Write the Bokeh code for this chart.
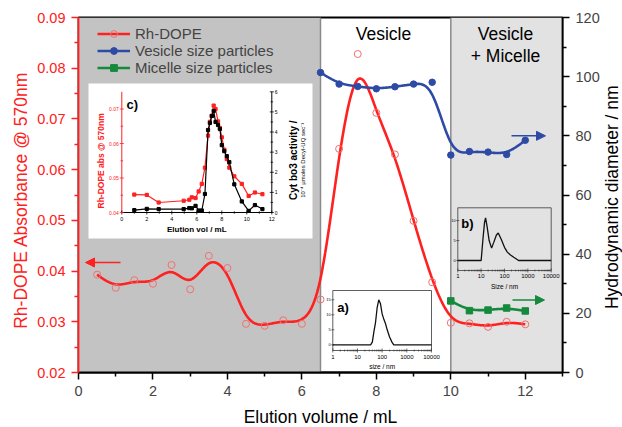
import numpy as np
from bokeh.plotting import figure
from bokeh.layouts import row, column
from bokeh.models import (Range1d, LinearAxis, FixedTicker, PrintfTickFormatter, Legend,
                          LegendItem, Arrow, NormalHead, Label)
from bokeh.core.properties import value
from bokeh.embed import file_html
from bokeh.resources import INLINE

# ---------------- data ----------------
rh_vol = [0.5, 1.0, 1.5, 2.0, 2.5, 3.0, 3.5, 4.0, 4.5, 5.0, 5.5, 6.0,
          6.5, 7.0, 7.5, 8.0, 8.5, 9.0, 9.5, 10.0, 10.5, 11.0, 11.5, 12.0]
rh_abs = [0.0393, 0.0367, 0.0382, 0.0375, 0.0412, 0.0364, 0.0430, 0.0406,
          0.0296, 0.0292, 0.0303, 0.0296, 0.0344, 0.0641, 0.0828, 0.0712,
          0.0630, 0.0499, 0.0378, 0.0298, 0.0297, 0.0290, 0.0300, 0.0295]
ves_vol = [6.5, 7.0, 7.5, 8.0, 8.5, 9.0, 9.5, 10.0, 10.5, 11.0, 11.5, 12.0]
ves_d = [101.4, 97.5, 96.7, 95.9, 96.6, 97.5, 98.1, 73.5, 74.7, 74.5, 73.7, 78.5]
mic_vol = [10.0, 10.5, 11.0, 11.5, 12.0]
mic_d = [24.2, 20.9, 21.1, 21.8, 20.8]

x_ticks = [0, 2, 4, 6, 8, 10, 12]
x_minor = [1, 3, 5, 7, 9, 11, 13]
abs_ticks = [0.02, 0.03, 0.04, 0.05, 0.06, 0.07, 0.08, 0.09]
abs_minor = [0.025, 0.035, 0.045, 0.055, 0.065, 0.075, 0.085]
d_ticks = [0, 20, 40, 60, 80, 100, 120]
d_minor = [10, 30, 50, 70, 90, 110]

# inset c : Rh-DOPE absorbance and Cyt bo3 activity
c_vol = [1.0, 2.0, 2.95, 4.95, 5.4, 5.6, 5.9, 6.15, 6.4, 6.65, 6.9, 7.05, 7.2,
         7.35, 7.5, 7.7, 7.85, 8.0, 8.2, 8.4, 8.6, 9.0, 9.6, 10.15, 10.65, 11.25]
c_abs = [0.0452, 0.0451, 0.0429, 0.0434, 0.0437, 0.0444, 0.0442, 0.0461, 0.0483,
         0.0530, 0.0623, 0.0663, 0.0680, 0.0710, 0.0700, 0.0664, 0.0645, 0.0618,
         0.0582, 0.0555, 0.0530, 0.0505, 0.0483, 0.0448, 0.0458, 0.0453]
c_act = [0.12, 0.18, 0.17, 0.17, 0.22, 0.21, 0.33, 0.10, 0.10, 0.92, 4.10, 4.45,
         4.80, 5.05, 4.50, 4.35, 4.15, 3.35, 3.05, 2.80, 2.50, 1.40, 0.55, 0.08,
         0.37, 0.17]
c_x_ticks = [0, 2, 4, 6, 8, 10, 12]
c_x_minor = [1, 3, 5, 7, 9, 11]
c_abs_ticks = [0.04, 0.05, 0.06, 0.07]
c_abs_minor = [0.045, 0.055, 0.065]
c_act_ticks = [0, 1, 2, 3, 4, 5, 6]
c_act_minor = [0.5, 1.5, 2.5, 3.5, 4.5, 5.5]

# inset a : size distribution (vesicle fraction)
a_size = [1, 34, 40, 46, 54, 63, 73, 85, 100, 118, 135, 160, 200, 250, 295, 10000]
a_int = [0, 0, 0.9, 4.2, 7.5, 12.5, 15.0, 13.8, 10.3, 8.4, 7.2, 5.0, 2.6, 0.9, 0, 0]
a_y_ticks = [0, 5, 10, 15]

# inset b : size distribution (vesicle + micelle fraction)
b_size = [1, 10, 12, 14, 15.5, 18, 22, 28, 35, 45, 54, 70, 100, 132, 180, 250, 400, 10000]
b_int = [0, 0, 5.5, 9.6, 10.7, 8.5, 5.0, 3.1, 4.6, 6.4, 6.9, 5.5, 3.3, 2.1, 1.4, 0.8, 0, 0]
b_y_ticks = [0, 5, 10]

dls_ticks = [1, 10, 100, 1000, 10000]
dls_labels = ["1", "10", "100", "1000", "10000"]

# ---------------- styling / layout ----------------
RED = "#ff2020"
RED_PT = "#f07070"
BLUE = "#2d4ba5"
GREEN = "#168a3c"
DARK = "#c3c3c3"
LIGHT = "#e2e2e2"
FONT = "Liberation Sans"

W, H = 622, 427
LW, RW = 32, 20                 # side strips carrying the rotated axis titles
MW = W - LW - RW                # main figure width
MH = 403                        # main figure height (bottom strip below it)
FL, FR, FT, FB = 78, 562, 17, 372   # frame edges on the page
BL, BR, BT, BB = FL - LW, LW + MW - FR, FT, MH - FB
X0, X1, Y0, Y1 = 0.0, 13.0, 0.02, 0.09


def mx(px):
    return X0 + (px - FL) / (FR - FL) * (X1 - X0)


def my(py):
    return Y0 + (FB - py) / (FB - FT) * (Y1 - Y0)


def bspline(xs, ys, n=24):
    P = np.column_stack([xs, ys]).astype(float)
    P = np.vstack([P[0], P[0], P, P[-1], P[-1]])
    t = np.linspace(0, 1, n, endpoint=False)[:, None]
    b0 = (1 - t) ** 3 / 6
    b1 = (3 * t ** 3 - 6 * t ** 2 + 4) / 6
    b2 = (-3 * t ** 3 + 3 * t ** 2 + 3 * t + 1) / 6
    b3 = t ** 3 / 6
    segs = []
    for i in range(len(P) - 3):
        segs.append(b0 * P[i] + b1 * P[i + 1] + b2 * P[i + 2] + b3 * P[i + 3])
    segs.append(P[-1:])
    out = np.vstack(segs)
    return out[:, 0], out[:, 1]


p = figure(width=MW, height=MH, x_range=Range1d(X0, X1), y_range=Range1d(Y0, Y1),
           output_backend="svg", toolbar_location=None,
           min_border_left=BL, min_border_right=BR, min_border_top=BT, min_border_bottom=BB,
           background_fill_color="white", border_fill_color="white")
p.xgrid.visible = False
p.ygrid.visible = False
p.outline_line_color = "black"
p.outline_line_width = 1.8
p.extra_y_ranges = {"d": Range1d(0, 120)}

xa = p.xaxis[0]
ya = p.yaxis[0]
ra = LinearAxis(y_range_name="d")
p.add_layout(ra, "right")

xa.ticker = FixedTicker(ticks=x_ticks, minor_ticks=x_minor)
ya.ticker = FixedTicker(ticks=abs_ticks, minor_ticks=abs_minor)
ya.formatter = PrintfTickFormatter(format="%.2f")
ra.ticker = FixedTicker(ticks=d_ticks, minor_ticks=d_minor)

for ax in (xa, ya, ra):
    ax.major_tick_in = 0
    ax.major_tick_out = 7
    ax.minor_tick_in = 0
    ax.minor_tick_out = 4
    ax.axis_line_width = 1.8
    ax.major_tick_line_width = 1.5
    ax.minor_tick_line_width = 1.5
    ax.major_label_text_font = FONT
    ax.major_label_text_font_size = "14.5px"
    ax.major_label_standoff = 6
for attr in ("axis_line_color", "major_tick_line_color", "minor_tick_line_color",
             "major_label_text_color"):
    setattr(ya, attr, RED)

# ---------------- background regions ----------------
p.quad(left=[0, 10], right=[6.5, 13], bottom=Y0, top=Y1,
       fill_color=[DARK, LIGHT], line_color=None)
p.segment(x0=[6.5, 10], y0=Y0, x1=[6.5, 10], y1=Y1, line_color="#8a8a8a", line_width=1.5)

# ---------------- main series ----------------
rx, ry = bspline(rh_vol, rh_abs)
r_line = p.line(rx, ry, line_color=RED, line_width=2.6)
r_pts = p.scatter(rh_vol, rh_abs, marker="circle", size=7, fill_color=None,
                  line_color=RED_PT, line_width=1)

bx, by = bspline(ves_vol, ves_d)
b_line = p.line(bx, by, line_color=BLUE, line_width=2.6, y_range_name="d")
b_pts = p.scatter(ves_vol, ves_d, marker="circle", size=6.5, fill_color=BLUE,
                  line_color=BLUE, y_range_name="d")

gx, gy = bspline(mic_vol, mic_d)
g_line = p.line(gx, gy, line_color=GREEN, line_width=2.6, y_range_name="d")
g_pts = p.scatter(mic_vol, mic_d, marker="square", size=6.5, fill_color=GREEN,
                  line_color=GREEN, y_range_name="d")

legend = Legend(items=[LegendItem(label="Rh-DOPE", renderers=[r_line, r_pts]),
                       LegendItem(label="Vesicle size particles", renderers=[b_line, b_pts]),
                       LegendItem(label="Micelle size particles", renderers=[g_line, g_pts])],
                location=(19, 296), margin=0, padding=0, spacing=0,
                glyph_width=33, glyph_height=17, label_height=17, label_standoff=5,
                label_text_font=FONT, label_text_font_size="15px",
                background_fill_alpha=0, border_line_alpha=0)
p.add_layout(legend)

# arrows
p.add_layout(Arrow(end=NormalHead(size=9, fill_color=RED, line_color=RED),
                   x_start=mx(120), y_start=my(262), x_end=mx(85), y_end=my(262),
                   line_color=RED, line_width=1.5))
p.add_layout(Arrow(end=NormalHead(size=9, fill_color=BLUE, line_color=BLUE),
                   x_start=mx(511), y_start=80, x_end=mx(545), y_end=80,
                   line_color=BLUE, line_width=1.5, y_range_name="d"))
p.add_layout(Arrow(end=NormalHead(size=9, fill_color=GREEN, line_color=GREEN),
                   x_start=mx(512), y_start=24.5, x_end=mx(544), y_end=24.5,
                   line_color=GREEN, line_width=1.5, y_range_name="d"))


def label(fig, x, y, text, size, color="black", angle=0.0):
    fig.add_layout(Label(x=x, y=y, text=text, text_font=FONT, text_font_size=size,
                         text_color=color, text_align="center", text_baseline="middle",
                         angle=angle))


label(p, mx(383), my(33), "Vesicle", "17.5px")
label(p, mx(505), my(33), "Vesicle", "17.5px")
label(p, mx(505), my(55), "+ Micelle", "17.5px")


def stext(sub, x, y, text, size, color="black", **kw):
    sub.text(x=x, y=y, text=text, text_font=value(FONT), text_font_size=size,
             text_color=color, **kw)


# ---------------- inset c ----------------
p.quad(left=mx(88), right=mx(312), bottom=my(238), top=my(83),
       fill_color="white", line_color=None)
cxt = Range1d(mx(121.3), mx(271.3))
cyt = Range1d(my(212), my(91.3))
c1 = p.subplot(x_source=Range1d(0, 12), y_source=Range1d(0.04, 0.075), x_target=cxt, y_target=cyt)
c2 = p.subplot(x_source=Range1d(0, 12), y_source=Range1d(0, 6), x_target=cxt, y_target=cyt)

c1.segment(x0=[0, 0], y0=[0.04, 0.04], x1=[0, 12], y1=[0.075, 0.04],
           line_color=[RED, "black"], line_width=1)
c2.segment(x0=12, y0=0, x1=12, y1=6, line_color="black", line_width=1)
c1.scatter(c_x_ticks, [0.04] * len(c_x_ticks), marker="dash", angle=np.pi / 2, size=4,
           line_color="black", line_width=0.8)
c1.scatter(c_x_minor, [0.04] * len(c_x_minor), marker="dash", angle=np.pi / 2, size=2.5,
           line_color="black", line_width=0.8)
c1.scatter([0] * len(c_abs_ticks), c_abs_ticks, marker="dash", size=4, line_color=RED, line_width=0.8)
c1.scatter([0] * len(c_abs_minor), c_abs_minor, marker="dash", size=2.5, line_color=RED, line_width=0.8)
c2.scatter([12] * len(c_act_ticks), c_act_ticks, marker="dash", size=4, line_color="black", line_width=0.8)
c2.scatter([12] * len(c_act_minor), c_act_minor, marker="dash", size=2.5, line_color="black", line_width=0.8)

c1.line(c_vol, c_abs, line_color=RED, line_width=1.2)
c1.scatter(c_vol, c_abs, marker="square", size=3.2, fill_color=RED, line_color=RED)
c2.line(c_vol, c_act, line_color="black", line_width=1.2)
c2.scatter(c_vol, c_act, marker="square", size=3.2, fill_color="black", line_color="black")

stext(c1, c_x_ticks, [0.04] * len(c_x_ticks), [str(v) for v in c_x_ticks], "5.5px",
      text_align="center", text_baseline="top", y_offset=4)
stext(c1, [0] * len(c_abs_ticks), c_abs_ticks, ["%.2f" % v for v in c_abs_ticks], "5px",
      color=RED, text_align="right", text_baseline="middle", x_offset=-3)
stext(c2, [12] * len(c_act_ticks), c_act_ticks, [str(v) for v in c_act_ticks], "5px",
      text_align="left", text_baseline="middle", x_offset=3)
stext(c1, [6], [0.04], ["Elution vol / mL"], "8px", text_align="center",
      text_baseline="middle", y_offset=16.5, text_font_style="bold")
stext(c1, [0], [0.05496], ["Rh-DOPE abs @ 570nm"], "8.5px", color=RED, text_align="center",
      text_baseline="middle", x_offset=-20.6, angle=np.pi / 2, text_font_style="bold")
stext(c2, [12], [2.6], ["Cyt bo3 activity /"], "10px", text_align="center",
      text_baseline="middle", x_offset=21.5, angle=np.pi / 2, text_font_style="bold")
stext(c2, [12], [2.6], ["10\u207b\u2074 \u00b5moles Decyl-UQ sec\u207b\u00b9"], "6px",
      text_align="center", text_baseline="middle", x_offset=31, angle=np.pi / 2)
stext(c1, [0], [0.075], ["c)"], "13px", text_align="left", text_baseline="middle",
      x_offset=4.7, y_offset=12.7, text_font_style="bold")

# ---------------- DLS insets a and b (log size axis) ----------------
minor_log = [m * 10 ** k for k in range(4) for m in range(2, 10)]
lg_ticks = list(np.log10(dls_ticks))
lg_minor = list(np.log10(minor_log))


def dls_inset(px0, px1, py_top, py_bot, ymin, ymax, sizes, ints, yticks, tag, xlabel,
              fill, tag_dx, tag_dy, xlab_dy, ylab_dy):
    s = p.subplot(x_source=Range1d(0, 4), y_source=Range1d(ymin, ymax),
                  x_target=Range1d(mx(px0), mx(px1)),
                  y_target=Range1d(my(py_bot), my(py_top)))
    s.quad(left=0, right=4, bottom=ymin, top=ymax, fill_color=fill,
           line_color="#4d4d4d", line_width=0.9)
    s.scatter(lg_ticks, [ymin] * len(lg_ticks), marker="dash", angle=np.pi / 2, size=4,
              line_color="#333333", line_width=0.7)
    s.scatter(lg_minor, [ymin] * len(lg_minor), marker="dash", angle=np.pi / 2, size=2,
              line_color="#333333", line_width=0.6)
    s.scatter([0] * len(yticks), yticks, marker="dash", size=3, line_color="#333333", line_width=0.7)
    s.line(np.log10(sizes), ints, line_color="#111111", line_width=1.3)
    stext(s, lg_ticks, [ymin] * len(lg_ticks), dls_labels, "6px", text_align="center",
          text_baseline="middle", y_offset=xlab_dy)
    stext(s, [0] * len(yticks), yticks, [str(v) for v in yticks], "4px", text_align="right",
          text_baseline="middle", x_offset=-2)
    stext(s, [2], [ymin], [xlabel], "6.5px", text_align="center", text_baseline="middle",
          y_offset=ylab_dy)
    stext(s, [0], [ymax], [tag], "13px", text_align="left", text_baseline="middle",
          x_offset=tag_dx, y_offset=tag_dy, text_font_style="bold")


dls_inset(332.3, 431.0, 290.0, 350.0, -1.9, 18.1, a_size, a_int, a_y_ticks, "a)",
          "size / nm", "white", 4.4, 16.7, 6, 16)
dls_inset(457.3, 550.7, 207.3, 270.0, -2.5, 13.2, b_size, b_int, b_y_ticks, "b)",
          "Size / nm", LIGHT, 3.4, 15.2, 5, 15.7)


# ---------------- strips carrying the axis titles ----------------
def title_strip(width, height, page_x0, page_y0, text, cx, cy, color, angle):
    f = figure(width=width, height=height, x_range=Range1d(page_x0, page_x0 + width),
               y_range=Range1d(page_y0 + height, page_y0), output_backend="svg",
               toolbar_location=None, x_axis_type=None, y_axis_type=None, min_border=0,
               min_border_left=0, min_border_right=0, min_border_top=0, min_border_bottom=0,
               outline_line_color=None, background_fill_color="white",
               border_fill_color="white")
    label(f, cx, cy, text, "17.5px", color=color, angle=angle)
    return f


left_strip = title_strip(LW, MH, 0, 0, "Rh-DOPE Absorbance @ 570nm", 20, 207.5, RED, np.pi / 2)
right_strip = title_strip(RW, MH, LW + MW, 0, "Hydrodynamic diameter / nm", 611.5, 204,
                          "black", np.pi / 2)
bottom_strip = title_strip(W, H - MH, 0, MH, "Elution volume / mL", 320, 416, "black", 0.0)

layout = column(row(left_strip, p, right_strip), bottom_strip)
open("out.html", "w").write(file_html(layout, INLINE))
